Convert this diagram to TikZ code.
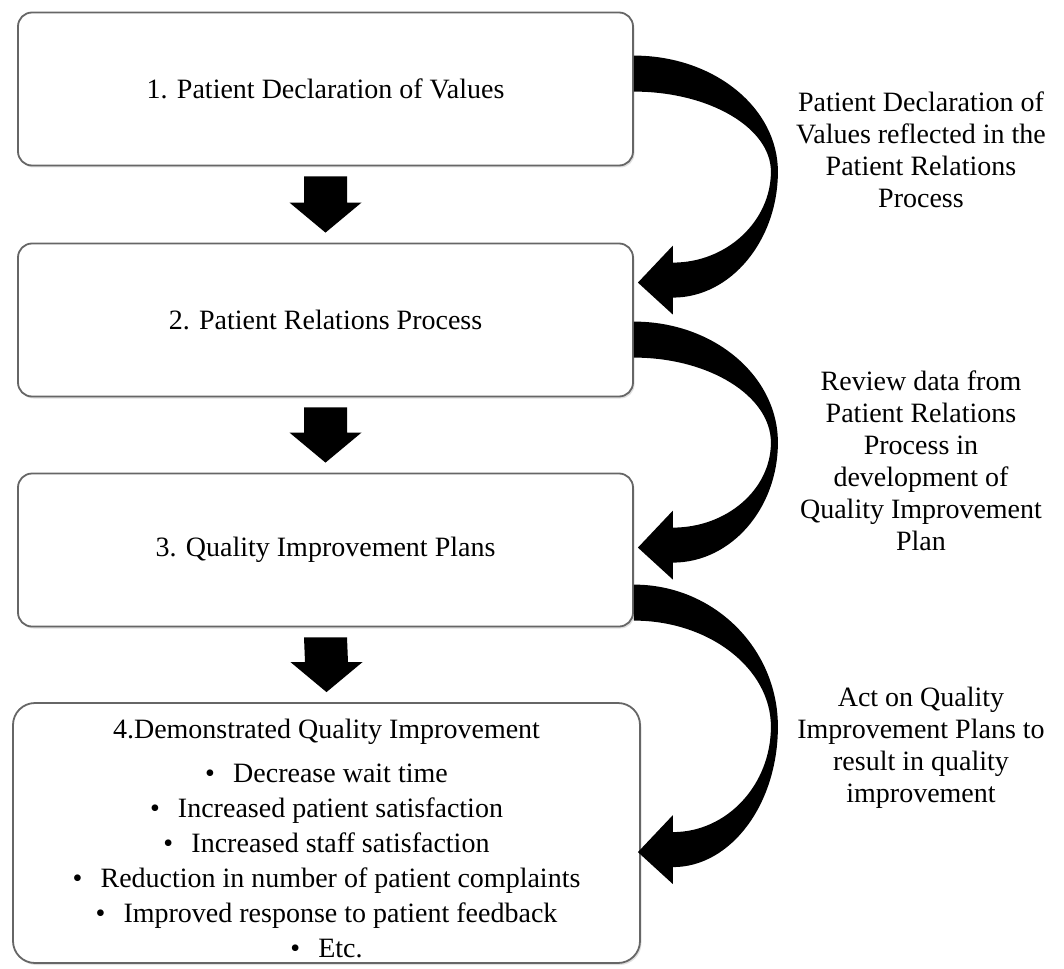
\documentclass[tikz,border=0pt]{standalone}
\usepackage{fontspec}
\setmainfont{Liberation Serif}
\usetikzlibrary{calc, shadows}

\begin{document}
\begin{tikzpicture}[x=1pt, y=-1pt,
    font=\fontsize{28}{32}\selectfont,
    stepbox/.style={draw=black!60, line width=1.8pt, fill=white, rounded corners=14pt,
        minimum width=615pt, minimum height=153pt, align=center,
        drop shadow={shadow xshift=1.5pt, shadow yshift=-2pt, opacity=0.25}},
    note/.style={align=center},
]
\useasboundingbox (0,0) rectangle (1064,968);

% --- los cuatro pasos ---
\node[stepbox] (b1) at (325.5,89) {1. Patient Declaration of Values};
\node[stepbox] (b2) at (325.5,320) {2. Patient Relations Process};
\node[stepbox] (b3) at (325.5,550) {3. Quality Improvement Plans};
\node[stepbox, rounded corners=22pt, minimum width=627pt, minimum height=260pt,
      font=\fontsize{28}{35}\selectfont] (b4) at (326.5,833)
    {\rule{0pt}{30pt}4.Demonstrated Quality Improvement\\[9pt]
     \textbullet\hspace{0.65em}Decrease wait time\\
     \textbullet\hspace{0.65em}Increased patient satisfaction\\
     \textbullet\hspace{0.65em}Increased staff satisfaction\\
     \textbullet\hspace{0.65em}Reduction in number of patient complaints\\
     \textbullet\hspace{0.65em}Improved response to patient feedback\\
     \textbullet\hspace{0.65em}Etc.};

% --- flechas gruesas hacia abajo ---
\foreach \a/\b in {b1/b2, b2/b3, b3/b4}{
    \fill ($(\a.south)+(-21.5,10)$) -- ($(\a.south)+(21.5,10)$) -- ($(\b.north)+(21.5,-40)$)
        -- ($(\b.north)+(36,-40)$) -- ($(\b.north)+(0,-10)$) -- ($(\b.north)+(-36,-40)$)
        -- ($(\b.north)+(-21.5,-40)$) -- cycle;
}

% --- flechas curvas a la derecha ---
\coordinate (s1) at ($(b1.north east)+(0,44)$);
\coordinate (t1) at ($(b2.north east)+(4,40)$);
\coordinate (s2) at ($(b2.north east)+(0,79)$);
\coordinate (t2) at ($(b3.north east)+(4,75)$);
\coordinate (s3) at ($(b3.north east)+(0,112)$);
\coordinate (t3) at ($(b4.north east)+(-3,150)$);
\foreach \s/\t/\m/\h in {s1/t1/116/226, s2/t2/121/226, s3/t3/142/268}{
    \fill (\s) .. controls +(80,0) and +(0,{-0.55*\m}) .. ($(\s)+(144,\m)$)
        .. controls +(0,{0.55*(\h+15-\m)}) and +(58,0) .. ($(\t)+(35,15)$)
        -- ($(\t)+(35,32)$) -- (\t) -- ($(\t)+(35,-37)$) -- ($(\t)+(35,-20)$)
        .. controls +(54,0) and +(0,{0.55*(\h-20-\m)}) .. ($(\s)+(137,\m)$)
        .. controls +(0,{-0.55*(\m-36)}) and +(75,0) .. ($(\s)+(0,36)$) -- cycle;
}

% --- textos de las flechas ---
\node[note] (l1) at (921,150) {Patient Declaration of\\Values reflected in the\\Patient Relations\\Process};
\node[note] (l2) at (921,461) {Review data from\\Patient Relations\\Process in\\development of\\Quality Improvement\\Plan};
\node[note] (l3) at (921,748) {Act on Quality\\Improvement Plans to\\result in quality\\improvement};

\end{tikzpicture}
\end{document}
